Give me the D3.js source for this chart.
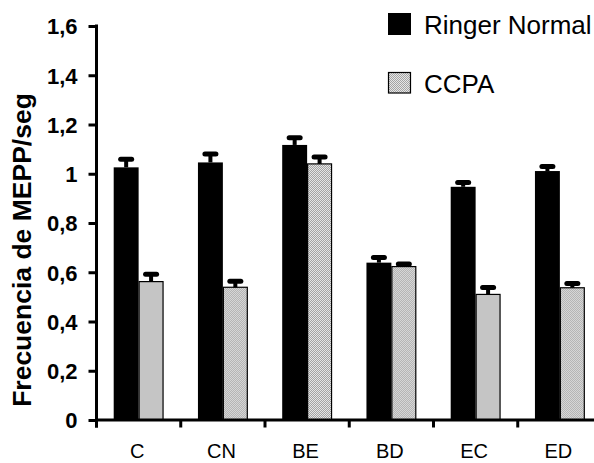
<!DOCTYPE html>
<html>
<head>
<meta charset="utf-8">
<script src="https://cdn.jsdelivr.net/npm/d3@7"></script>
<style>
  html, body { margin: 0; padding: 0; background: #fff; }
  svg { display: block; font-family: Arial, "Liberation Sans", sans-serif; }
</style>
</head>
<body>
<svg id="chart" width="594" height="463"></svg>
<script>
// ---- data ----
const categories = ["C", "CN", "BE", "BD", "EC", "ED"];
const seriesNames = ["Ringer Normal", "CCPA"];
const ringerValues = [1.026, 1.046, 1.117, 0.639, 0.947, 1.011];
const ringerErrors = [0.033, 0.034, 0.029, 0.021, 0.017, 0.018];
const ccpaValues = [0.562, 0.539, 1.040, 0.623, 0.510, 0.537];
const ccpaErrors = [0.030, 0.024, 0.028, 0.010, 0.028, 0.017];
const yTickValues = [0, 0.2, 0.4, 0.6, 0.8, 1.0, 1.2, 1.4, 1.6];
const yTickLabels = ["0", "0,2", "0,4", "0,6", "0,8", "1", "1,2", "1,4", "1,6"];
const yTitle = "Frecuencia de MEPP/seg";

const svg = d3.select("#chart");

// pattern for stippled gray fill
const defs = svg.append("defs");
const pat = defs.append("pattern").attr("id", "stipple")
  .attr("width", 2).attr("height", 2).attr("patternUnits", "userSpaceOnUse");
pat.append("rect").attr("width", 2).attr("height", 2).attr("fill", "#e6e6e6");
pat.append("rect").attr("x", 0).attr("y", 0).attr("width", 1).attr("height", 1).attr("fill", "#a4a4a4");
pat.append("rect").attr("x", 1).attr("y", 1).attr("width", 1).attr("height", 1).attr("fill", "#a4a4a4");

const fills = ["#000", "url(#stipple)"];

const y = d3.scaleLinear().domain([0, 1.6]).range([420, 26]);
const x0 = d3.scaleBand().domain(categories).range([96.5, 602]).padding(0);
const x1 = d3.scaleBand().domain(seriesNames).range([0, x0.bandwidth()])
  .paddingInner(0).paddingOuter(0.69);

const rows = categories.map((c, i) => ({
  cat: c,
  items: [
    { s: seriesNames[0], v: ringerValues[i], e: ringerErrors[i], k: 0 },
    { s: seriesNames[1], v: ccpaValues[i], e: ccpaErrors[i], k: 1 }
  ]
}));

// bars
const g = svg.append("g");
const groups = g.selectAll("g.grp").data(rows).join("g")
  .attr("class", "grp")
  .attr("transform", d => `translate(${x0(d.cat)},0)`);

groups.selectAll("rect").data(d => d.items).join("rect")
  .attr("x", d => x1(d.s) + (d.k === 1 ? 0.5 : 0))
  .attr("y", d => y(d.v))
  .attr("width", d => x1.bandwidth() - (d.k === 1 ? 1 : 0))
  .attr("height", d => y(0) - y(d.v))
  .attr("fill", d => fills[d.k])
  .attr("stroke", d => d.k === 1 ? "#000" : "none")
  .attr("stroke-width", 1.2);

// error bars (upper only)
groups.selectAll("line.stem").data(d => d.items).join("line")
  .attr("class", "stem")
  .attr("x1", d => x1(d.s) + x1.bandwidth() / 2)
  .attr("x2", d => x1(d.s) + x1.bandwidth() / 2)
  .attr("y1", d => y(d.v))
  .attr("y2", d => y(d.v + d.e))
  .attr("stroke", "#000").attr("stroke-width", 4);

groups.selectAll("line.cap").data(d => d.items).join("line")
  .attr("class", "cap")
  .attr("x1", d => x1(d.s) + x1.bandwidth() / 2 - 5.5)
  .attr("x2", d => x1(d.s) + x1.bandwidth() / 2 + 5.5)
  .attr("y1", d => y(d.v + d.e))
  .attr("y2", d => y(d.v + d.e))
  .attr("stroke", "#000").attr("stroke-width", 5)
  .attr("stroke-linecap", "round");

// y axis
const yAxis = d3.axisLeft(y)
  .tickValues(yTickValues)
  .tickFormat((d, i) => yTickLabels[i])
  .tickSize(8).tickSizeOuter(0).tickPadding(11);
const ya = svg.append("g").attr("transform", "translate(96.5,0)").call(yAxis);
ya.select(".domain").remove();
ya.selectAll(".tick line").attr("stroke", "#000").attr("stroke-width", 3);
ya.selectAll(".tick text")
  .attr("font-size", 22).attr("font-weight", "bold")
  .attr("font-family", "Arial, 'Liberation Sans', sans-serif")
  .attr("fill", "#000").attr("dy", "0.36em");
ya.append("line").attr("x1", 0).attr("x2", 0)
  .attr("y1", y(1.6) - 1.5).attr("y2", 427.5)
  .attr("stroke", "#000").attr("stroke-width", 3);

// x axis
const xAxis = d3.axisBottom(x0).tickSize(0).tickSizeOuter(0).tickPadding(24);
const xa = svg.append("g").attr("transform", `translate(0,${y(0)})`).call(xAxis);
xa.select(".domain").remove();
xa.selectAll(".tick text")
  .attr("font-size", 20)
  .attr("font-family", "Arial, 'Liberation Sans', sans-serif")
  .attr("fill", "#000")
  .attr("transform", "translate(-1.5,0)");
xa.append("line").attr("x1", 95).attr("x2", 600).attr("y1", 0).attr("y2", 0)
  .attr("stroke", "#000").attr("stroke-width", 3);
xa.selectAll("line.bt").data(categories).join("line")
  .attr("class", "bt")
  .attr("x1", d => x0(d)).attr("x2", d => x0(d))
  .attr("y1", 0).attr("y2", 7.5)
  .attr("stroke", "#000").attr("stroke-width", 3);

// y title
svg.append("text")
  .attr("transform", "translate(31,250) rotate(-90)")
  .attr("text-anchor", "middle")
  .attr("font-size", 26.5).attr("font-weight", "bold")
  .attr("fill", "#000")
  .text(yTitle);

// legend
const legend = svg.append("g");
const legRows = [{ name: seriesNames[0], k: 0, y: 13 }, { name: seriesNames[1], k: 1, y: 72 }];
legend.selectAll("rect").data(legRows).join("rect")
  .attr("x", d => d.k === 1 ? 388.5 : 388)
  .attr("y", d => d.y + (d.k === 1 ? 0.5 : 0))
  .attr("width", d => d.k === 1 ? 22 : 23)
  .attr("height", d => d.k === 1 ? 20.5 : 22)
  .attr("fill", d => fills[d.k])
  .attr("stroke", d => d.k === 1 ? "#000" : "none")
  .attr("stroke-width", 1.2);
legend.selectAll("text").data(legRows).join("text")
  .attr("x", 424)
  .attr("y", d => d.y + 20.5)
  .attr("font-size", 26)
  .attr("fill", "#000")
  .text(d => d.name);
</script>
</body>
</html>
